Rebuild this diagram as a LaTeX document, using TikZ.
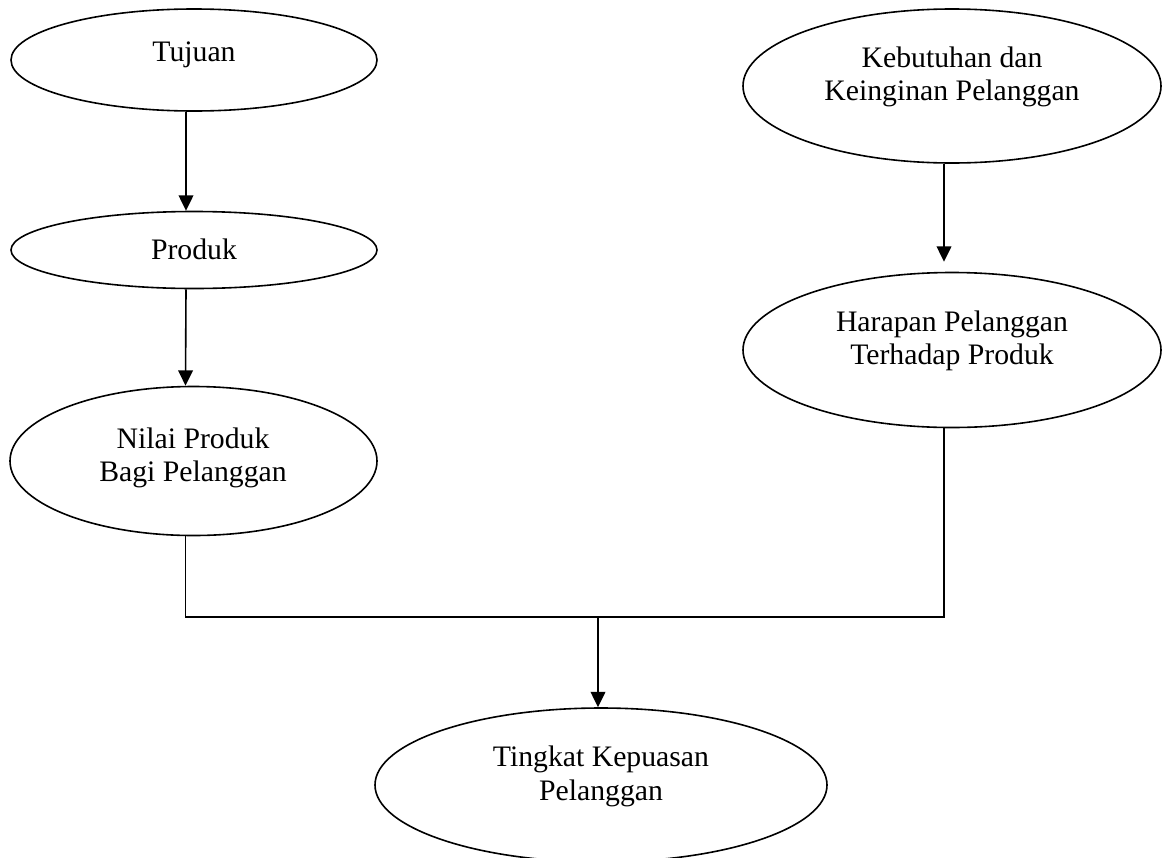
\documentclass[tikz,border=0pt]{standalone}
\usepackage{fontspec}
\setmainfont{Liberation Serif}
\usetikzlibrary{shapes.geometric,arrows.meta}
\begin{document}
\begin{tikzpicture}[x=0.75pt,y=-0.75pt,
  oval/.style={draw,ellipse,line width=1.2pt,inner sep=0pt},
  lbl/.style={font=\fontsize{22.3pt}{25pt}\selectfont,align=center,inner sep=0pt},
  arr/.style={line width=1.2pt,-{Triangle[length=11.5pt,width=11pt]}},
  ln/.style={line width=1.2pt}]
\useasboundingbox (0,0) rectangle (1163,857);
% ellipses
\node[oval,minimum width=274.5pt,minimum height=76.5pt] (tuj) at (194,60) {};
\node[oval,minimum width=274.5pt,minimum height=57.75pt] (prd) at (194,250) {};
\node[oval,minimum width=275.25pt,minimum height=111.75pt] (nil) at (193.5,461) {};
\node[oval,minimum width=313.5pt,minimum height=115.5pt] (keb) at (952,86) {};
\node[oval,minimum width=313.5pt,minimum height=116.25pt] (har) at (952,350) {};
\node[oval,minimum width=339pt,minimum height=115.5pt] (tin) at (601,785) {};
% labels
\node[lbl] (tujT) at (194,55) {Tujuan};
\node[lbl] (prdT) at (194,249) {Produk};
\node[lbl] (nilT) at (193,458) {Nilai Produk\\Bagi Pelanggan};
\node[lbl] (kebT) at (952,77) {Kebutuhan dan\\Keinginan Pelanggan};
\node[lbl] (harT) at (952,341) {Harapan Pelanggan\\Terhadap Produk};
\node[lbl] (tinT) at (601,776.5) {Tingkat Kepuasan\\Pelanggan};
% connectors
\coordinate (j) at (598,617);
\draw[arr] ([xshift=-6pt]tuj.south) -- ([xshift=-6pt]prd.north);
\draw[arr] ([xshift=-6pt]prd.south) -- ([xshift=-6pt]nil.north);
\draw[arr,shorten >=7.5pt] ([xshift=-6pt]keb.south) -- ([xshift=-6pt]har.north);
\draw[ln] ([xshift=-6pt]nil.south) |- (j) -| ([xshift=-6pt]har.south);
\draw[arr] (j) -- (j |- tin.north);
\end{tikzpicture}
\end{document}
